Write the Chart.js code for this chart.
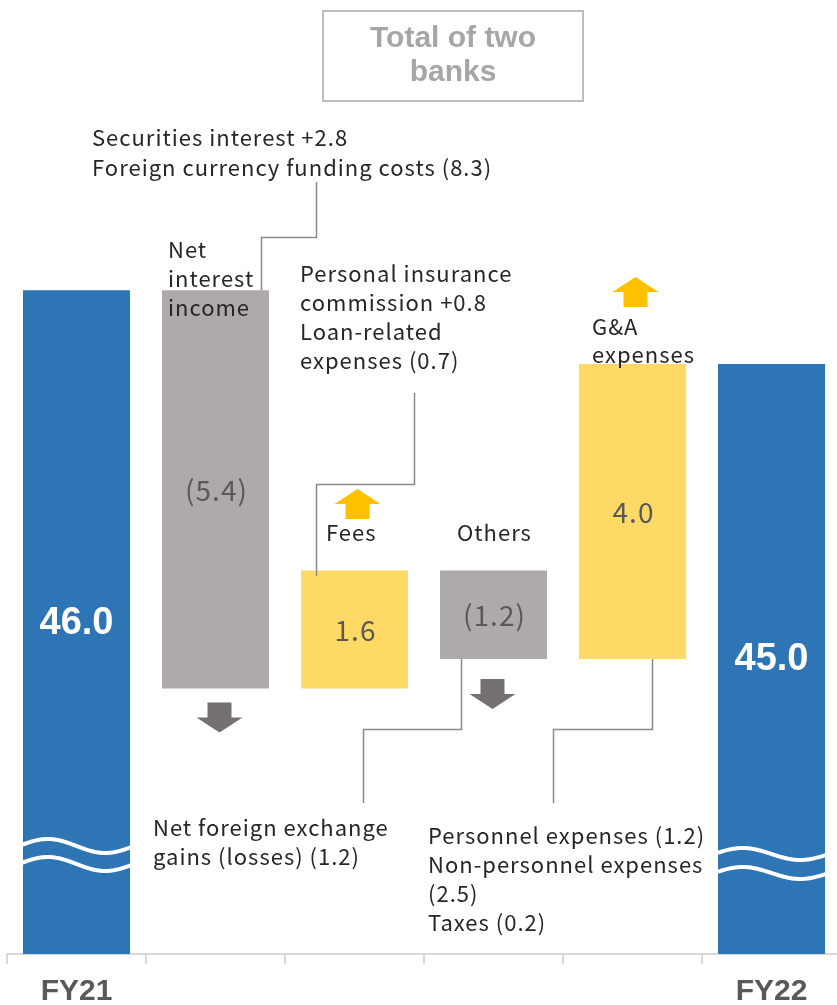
<!DOCTYPE html>
<html>
<head>
<meta charset="utf-8">
<script src="https://cdn.jsdelivr.net/npm/chart.js@4"></script>
<style>
  html, body { margin: 0; padding: 0; background: #fff; overflow: hidden; }
  #wrap { width: 837px; height: 1005px; overflow: hidden; }
</style>
</head>
<body>
<div id="wrap"><canvas id="bridge" width="841" height="1005"></canvas></div>
<script>
// bridge of the two banks' figures, FY21 -> FY22
const categories = ['FY21', 'Net interest income', 'Fees', 'Others', 'G&A expenses', 'FY22'];
const startTotal = 46.0;
const endTotal = 45.0;
const changes = [null, -5.4, 1.6, -1.2, 4.0, null];
const axisFloor = 37;
const axisCeil = 49.5;

const catLines = [[], ['Net', 'interest', 'income'], ['Fees'], ['Others'], ['G&A', 'expenses'], []];
const noteSecurities = ['Securities interest +2.8', 'Foreign currency funding costs (8.3)'];
const noteFees = ['Personal insurance', 'commission +0.8', 'Loan-related', 'expenses (0.7)'];
const noteFx = ['Net foreign exchange', 'gains (losses) (1.2)'];
const noteGA = ['Personnel expenses (1.2)', 'Non-personnel expenses', '(2.5)', 'Taxes (0.2)'];
const titleLines = ['Total of two', 'banks'];

const BLUE = '#2E75B6', GREY = '#AEAAAA', GOLD = '#FFD966';
const ARROW_GREY = '#767171', ARROW_GOLD = '#FFC000';
const LINE = '#8a8a8a', TEXT = '#262626';
const BODY_FONT = '"Noto Sans CJK JP", "Noto Sans", sans-serif';

// floating ranges: totals sit on the axis floor, steps run off the running total
let running = startTotal;
const ranges = categories.map((c, i) => {
  if (i === 0) return [axisFloor, startTotal];
  if (i === categories.length - 1) return [axisFloor, endTotal];
  const from = running;
  running = +(running + changes[i]).toFixed(1);
  return [Math.min(from, running), Math.max(from, running)];
});
const colors = categories.map((c, i) =>
  (i === 0 || i === categories.length - 1) ? BLUE : (changes[i] < 0 ? GREY : GOLD));
const valueText = categories.map((c, i) => {
  if (i === 0) return startTotal.toFixed(1);
  if (i === categories.length - 1) return endTotal.toFixed(1);
  const v = Math.abs(changes[i]).toFixed(1);
  return changes[i] < 0 ? '(' + v + ')' : v;
});

function lines(ctx, arr, x, y, lh) {
  arr.forEach((t, k) => ctx.fillText(t, x, y + k * lh));
}
function path(ctx, pts) {
  ctx.beginPath();
  pts.forEach((p, k) => k ? ctx.lineTo(p[0], p[1]) : ctx.moveTo(p[0], p[1]));
  ctx.stroke();
}
function arrow(ctx, cx, tip, up, color) {
  // block arrow: 46 wide head, 24 wide shaft
  const d = up ? 1 : -1;
  ctx.fillStyle = color;
  ctx.beginPath();
  ctx.moveTo(cx, tip);
  ctx.lineTo(cx + 23, tip + d * 15);
  ctx.lineTo(cx + 12, tip + d * 15);
  ctx.lineTo(cx + 12, tip + d * 30);
  ctx.lineTo(cx - 12, tip + d * 30);
  ctx.lineTo(cx - 12, tip + d * 15);
  ctx.lineTo(cx - 23, tip + d * 15);
  ctx.closePath();
  ctx.fill();
}
function wave(ctx, bar, mid, amp, gap) {
  const l = bar.x - bar.width / 2 - 4, r = bar.x + bar.width / 2 + 4;
  ctx.strokeStyle = '#fff';
  ctx.lineWidth = 4;
  [0, gap].forEach(off => {
    ctx.beginPath();
    for (let x = l; x <= r; x += 1) {
      const t = (x - l) / (r - l);
      const y = mid + off - amp * Math.sin(2 * Math.PI * t);
      x === l ? ctx.moveTo(x, y) : ctx.lineTo(x, y);
    }
    ctx.stroke();
  });
}

const decorations = {
  id: 'decorations',
  afterDatasetsDraw(chart) {
    const ctx = chart.ctx;
    const ys = chart.scales.y;
    const bars = chart.getDatasetMeta(0).data;
    ctx.save();

    // axis break marks on the two totals
    wave(ctx, bars[0], 846, 7, 18);
    wave(ctx, bars[5], 854, 6, 19);

    // values centred in each bar
    ctx.textAlign = 'center';
    ctx.textBaseline = 'middle';
    bars.forEach((b, i) => {
      const cy = (ys.getPixelForValue(ranges[i][0]) + ys.getPixelForValue(ranges[i][1])) / 2;
      if (i === 0 || i === bars.length - 1) {
        ctx.fillStyle = '#fff';
        ctx.letterSpacing = '0px';
        ctx.font = 'bold 38px "Liberation Sans", Arial, sans-serif';
        ctx.fillText(valueText[i], b.x, cy + 1);
      } else {
        ctx.fillStyle = '#595959';
        ctx.letterSpacing = '1px';
        ctx.font = '28px ' + BODY_FONT;
        ctx.fillText(valueText[i], b.x + 1, cy + 1);
      }
    });

    // direction arrows
    arrow(ctx, bars[1].x + 4, ys.getPixelForValue(ranges[1][0]) + 44, false, ARROW_GREY);
    arrow(ctx, bars[2].x + 3, 489, true, ARROW_GOLD);
    arrow(ctx, bars[3].x - 1, ys.getPixelForValue(ranges[3][0]) + 50, false, ARROW_GREY);
    arrow(ctx, bars[4].x + 3, 277, true, ARROW_GOLD);

    // callout leaders
    ctx.strokeStyle = LINE;
    ctx.lineWidth = 1.5;
    const topNII = ys.getPixelForValue(ranges[1][1]);
    path(ctx, [[316.5, 182], [316.5, 237.5], [261.5, 237.5], [261.5, topNII]]);
    path(ctx, [[414.5, 393], [414.5, 484.5], [316.5, 484.5], [316.5, 576]]);
    const botOth = ys.getPixelForValue(ranges[3][0]);
    path(ctx, [[461.5, botOth], [461.5, 729.5], [363.5, 729.5], [363.5, 803]]);
    const botGA = ys.getPixelForValue(ranges[4][0]);
    path(ctx, [[652.5, botGA], [652.5, 729.5], [553.5, 729.5], [553.5, 803]]);

    // category names and notes
    ctx.textAlign = 'left';
    ctx.fillStyle = TEXT;
    ctx.letterSpacing = '1px';
    ctx.font = '22px ' + BODY_FONT;
    lines(ctx, noteSecurities, 92, 138, 30);
    lines(ctx, catLines[1], 168, 250, 29);
    lines(ctx, noteFees, 300, 274, 29);
    lines(ctx, catLines[2], 326, 533, 29);
    lines(ctx, catLines[3], 457, 533, 29);
    lines(ctx, catLines[4], 592, 327, 28);
    lines(ctx, noteFx, 153, 828, 28.5);
    lines(ctx, noteGA, 428, 836, 29);

    // heading box
    ctx.letterSpacing = '0px';
    ctx.strokeStyle = '#bfbfbf';
    ctx.lineWidth = 2;
    ctx.strokeRect(323, 11, 260, 90);
    ctx.textAlign = 'center';
    ctx.fillStyle = '#a6a6a6';
    ctx.font = 'bold 30px "Liberation Sans", Arial, sans-serif';
    lines(ctx, titleLines, 453, 39, 34);

    ctx.restore();
  }
};

new Chart(document.getElementById('bridge'), {
  type: 'bar',
  data: {
    labels: categories,
    datasets: [{
      data: ranges,
      backgroundColor: colors,
      borderWidth: 0,
      categoryPercentage: 1,
      barPercentage: 0.77
    }]
  },
  options: {
    responsive: false,
    animation: false,
    events: [],
    layout: { padding: { left: 7, right: 0, top: 32, bottom: 0 } },
    plugins: { legend: { display: false }, tooltip: { enabled: false } },
    scales: {
      x: {
        afterFit(s) { s.height = 51; },
        border: { color: '#d9d9d9', width: 2 },
        grid: { drawOnChartArea: false, tickLength: 10, color: '#d9d9d9', lineWidth: 2 },
        ticks: {
          padding: 10,
          color: '#595959',
          font: { family: '"Liberation Sans", Arial, sans-serif', size: 30, weight: 'bold' },
          callback: (v, i) => (i === 0 || i === categories.length - 1) ? categories[i] : ''
        }
      },
      y: { display: false, min: axisFloor, max: axisCeil }
    }
  },
  plugins: [decorations]
});
</script>
</body>
</html>
